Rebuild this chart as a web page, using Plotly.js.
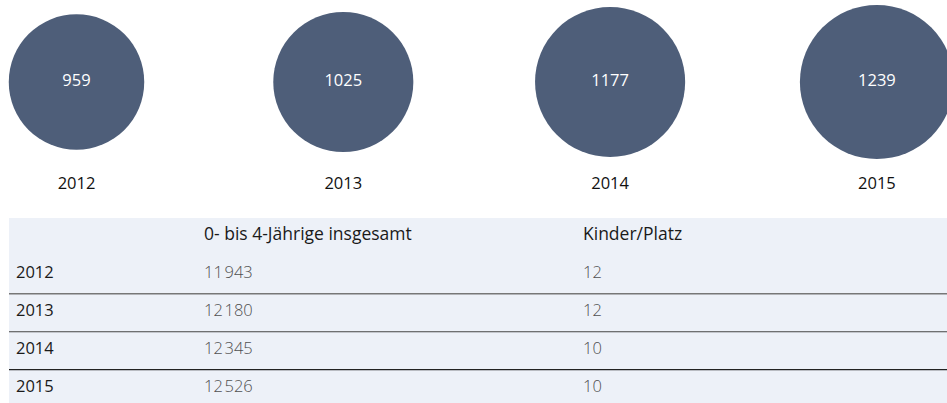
<!DOCTYPE html>
<html>
<head>
<meta charset="utf-8">
<script src="https://cdn.plot.ly/plotly-3.0.1.min.js"></script>
<style>html,body{margin:0;padding:0;background:#fff;}#chart{width:947px;height:403px;}</style>
</head>
<body>
<div id="chart"></div>
<script>
// ---- data ----
var years = ['2012', '2013', '2014', '2015'];
var places = [959, 1025, 1177, 1239];
var childrenTotal = [11943, 12180, 12345, 12526];
var childrenPerPlace = [12, 12, 10, 10];
var headers = ['', '0- bis 4-Jährige insgesamt', 'Kinder/Platz'];

// ---- style / layout constants ----
var FONT = '"Open Sans", Roboto, "Noto Sans", sans-serif';
var FS = 16.5;
var FS_HEAD = 17.5;
var CIRCLE = '#4e5e79';
var TABLE_BG = '#edf1f8';
var COL_X = [16, 204, 583];
var W = 947, H = 403;

function fmt(n) {
  return String(n).replace(/\B(?=(\d{3})+(?!\d))/g, '\u200A');
}

var idx = years.map(function (_, i) { return i + 1; });
var maxD = 154;
var sizeref = 2 * Math.max.apply(null, places) / (maxD * maxD);

var traces = [];
// circles
traces.push({
  type: 'scatter', mode: 'markers+text', xaxis: 'x', yaxis: 'y',
  x: idx, y: idx.map(function () { return 1; }),
  text: places.map(String), textposition: 'middle center',
  textfont: { family: FONT, size: FS, color: '#ffffff' },
  marker: { size: places, sizemode: 'area', sizeref: sizeref, color: CIRCLE, opacity: 1, line: { width: 0 } },
  cliponaxis: true, hoverinfo: 'skip', showlegend: false
});
// year labels under circles
traces.push({
  type: 'scatter', mode: 'text', xaxis: 'x', yaxis: 'y',
  x: idx, y: idx.map(function () { return 0; }),
  text: years, textposition: 'middle center',
  textfont: { family: FONT, size: FS, color: '#111111' },
  hoverinfo: 'skip', showlegend: false
});

// table: header row (row 0)
var rowIdx = years.map(function (_, i) { return i + 1; });
traces.push({
  type: 'scatter', mode: 'text', xaxis: 'x2', yaxis: 'y2',
  x: COL_X.slice(1), y: [0, 0],
  text: headers.slice(1), textposition: 'middle right',
  textfont: { family: FONT, size: FS_HEAD, color: '#1a1a1a' },
  hoverinfo: 'skip', showlegend: false
});
traces.push({
  type: 'scatter', mode: 'text', xaxis: 'x2', yaxis: 'y2',
  x: rowIdx.map(function () { return COL_X[0]; }), y: rowIdx,
  text: years, textposition: 'middle right',
  textfont: { family: FONT, size: FS, color: '#1a1a1a' },
  hoverinfo: 'skip', showlegend: false
});
traces.push({
  type: 'scatter', mode: 'text', xaxis: 'x2', yaxis: 'y2',
  x: rowIdx.map(function () { return COL_X[1]; }), y: rowIdx,
  text: childrenTotal.map(fmt), textposition: 'middle right',
  textfont: { family: FONT, size: FS, color: '#505050', weight: 300 },
  hoverinfo: 'skip', showlegend: false
});
traces.push({
  type: 'scatter', mode: 'text', xaxis: 'x2', yaxis: 'y2',
  x: rowIdx.map(function () { return COL_X[2]; }), y: rowIdx,
  text: childrenPerPlace.map(String), textposition: 'middle right',
  textfont: { family: FONT, size: FS, color: '#505050', weight: 300 },
  hoverinfo: 'skip', showlegend: false
});

// top subplot geometry: circles at y=1 (px 82), labels at y=0 (px 185)
var spanX = 266.8;
var x0 = 1 - 76.5 / spanX;
var topH = 200;
var pxPerY = 103;
var topDomain = [1 - topH / H, 1];
var yTop = 1 + 82 / pxPerY, yBot = 0 - (topH - 185) / pxPerY;

// table geometry
var tTop = 218, tBottom = 403;
var rowPx = 37.8;
var yr0 = -(236 - tTop) / rowPx;
var yr1 = 4 + (tBottom - 388) / rowPx;

var shapes = [{
  type: 'rect', xref: 'x2', yref: 'y2', x0: 9, x1: W, y0: yr0, y1: yr1,
  fillcolor: TABLE_BG, line: { width: 0 }, layer: 'below'
}];
var lineColors = ['#777777', '#444444', '#222222'];
for (var i = 1; i < years.length; i++) {
  shapes.push({
    type: 'line', xref: 'x2', yref: 'y2', x0: 9, x1: W, y0: i + 0.52, y1: i + 0.52,
    line: { color: lineColors[i - 1], width: i === 1 ? 1.5 : 1.2 }, layer: 'above'
  });
}

var ax = { visible: false, showgrid: false, zeroline: false, fixedrange: true };
var layout = {
  width: W, height: H,
  margin: { l: 0, r: 0, t: 0, b: 0, pad: 0 },
  paper_bgcolor: '#ffffff', plot_bgcolor: 'rgba(0,0,0,0)',
  font: { family: FONT },
  xaxis: Object.assign({}, ax, { domain: [0, 1], range: [x0, x0 + W / spanX] }),
  yaxis: Object.assign({}, ax, { domain: topDomain, range: [yBot, yTop] }),
  xaxis2: Object.assign({}, ax, { domain: [0, 1], range: [0, W], anchor: 'y2' }),
  yaxis2: Object.assign({}, ax, { domain: [0, (tBottom - tTop) / H], range: [yr1, yr0], anchor: 'x2' }),
  shapes: shapes,
  showlegend: false
};

Plotly.newPlot('chart', traces, layout, { staticPlot: true, displayModeBar: false });
</script>
</body>
</html>
